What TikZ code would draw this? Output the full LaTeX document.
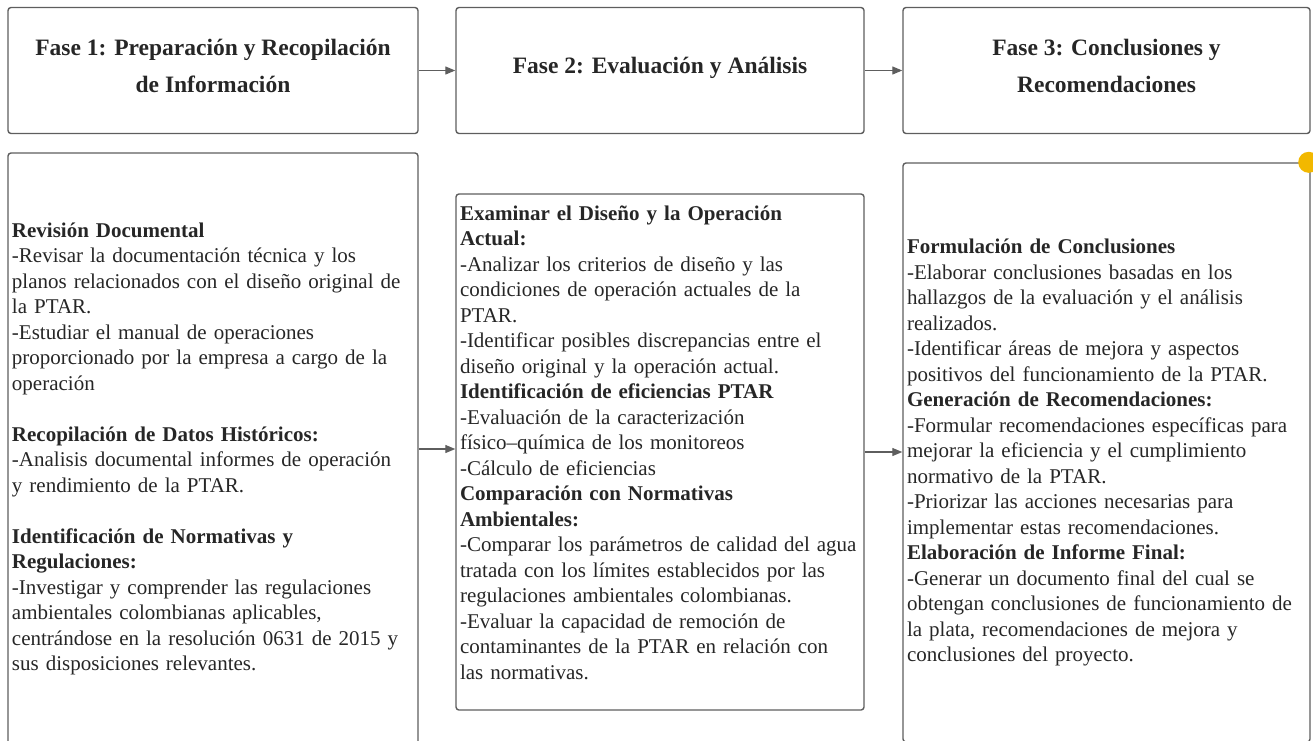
\documentclass[tikz,border=0pt]{standalone}
\usepackage{fontspec}
\setmainfont{Liberation Serif}
\usepackage{xcolor}
\usetikzlibrary{arrows.meta}
\definecolor{edgegray}{HTML}{5E5E5E}
\definecolor{txtgray}{HTML}{262626}
\definecolor{dotyellow}{HTML}{F2B800}
\tikzset{
    phase/.style={draw=edgegray, line width=1.4pt, rounded corners=3pt, inner sep=0pt,
        align=center, text=txtgray, font=\fontsize{23.5}{37}\selectfont\bfseries},
    stage/.style={draw=edgegray, line width=1.4pt, rounded corners=3pt, inner xsep=4pt, inner ysep=0pt,
        align=left, text=txtgray, font=\fontsize{21}{25.5}\selectfont},
    conn/.style={draw=edgegray, line width=1.2pt, -{Triangle[length=10pt, width=8pt]}}
}
\newcommand{\hd}[1]{\textbf{#1}}
\newcommand{\tailgap}[1]{\\[#1]\mbox{}}

\begin{document}
\begin{tikzpicture}[x=1pt, y=-1pt]
\useasboundingbox (0,0) rectangle (1313,740);
% fases
\node[phase, minimum width=410pt, minimum height=126pt] (f1) at (213,70.5) {Fase 1: Preparación y Recopilación\\de Información\tailgap{-27pt}};
\node[phase, minimum width=408pt, minimum height=126pt] (f2) at (660,70.5) {Fase 2: Evaluación y Análisis\tailgap{-27pt}};
\node[phase, minimum width=407pt, minimum height=126pt] (f3) at (1106.5,70.5) {Fase 3: Conclusiones y\\Recomendaciones\tailgap{-27pt}};
% actividades
\node[stage, text width=402pt, minimum width=410pt, minimum height=592pt] (a1) at (213,449) {%
\hd{Revisión Documental}\\
-Revisar la documentación técnica y los\\
planos relacionados con el diseño original de\\
la PTAR.\\
-Estudiar el manual de operaciones\\
proporcionado por la empresa a cargo de la\\
operación\\[25.5pt]
\hd{Recopilación de Datos Históricos:}\\
-Analisis documental informes de operación\\
y rendimiento de la PTAR.\\[25.5pt]
\hd{Identificación de Normativas y}\\
\hd{Regulaciones:}\\
-Investigar y comprender las regulaciones\\
ambientales colombianas aplicables,\\
centrándose en la resolución 0631 de 2015 y\\
sus disposiciones relevantes.};
\node[stage, text width=400pt, minimum width=408pt, minimum height=516pt] (a2) at (660,452) {%
\hd{Examinar el Diseño y la Operación}\\
\hd{Actual:}\\
-Analizar los criterios de diseño y las\\
condiciones de operación actuales de la\\
PTAR.\\
-Identificar posibles discrepancias entre el\\
diseño original y la operación actual.\\
\hd{Identificación de eficiencias PTAR}\\
-Evaluación de la caracterización\\
físico–química de los monitoreos\\
-Cálculo de eficiencias\\
\hd{Comparación con Normativas}\\
\hd{Ambientales:}\\
-Comparar los parámetros de calidad del agua\\
tratada con los límites establecidos por las\\
regulaciones ambientales colombianas.\\
-Evaluar la capacidad de remoción de\\
contaminantes de la PTAR en relación con\\
las normativas.\tailgap{-6pt}};
\node[stage, text width=399pt, minimum width=407pt, minimum height=579pt] (a3) at (1106.5,452.5) {%
\hd{Formulación de Conclusiones}\\
-Elaborar conclusiones basadas en los\\
hallazgos de la evaluación y el análisis\\
realizados.\\
-Identificar áreas de mejora y aspectos\\
positivos del funcionamiento de la PTAR.\\
\hd{Generación de Recomendaciones:}\\
-Formular recomendaciones específicas para\\
mejorar la eficiencia y el cumplimiento\\
normativo de la PTAR.\\
-Priorizar las acciones necesarias para\\
implementar estas recomendaciones.\\
\hd{Elaboración de Informe Final:}\\
-Generar un documento final del cual se\\
obtengan conclusiones de funcionamiento de\\
la plata, recomendaciones de mejora y\\
conclusiones del proyecto.};
% flechas
\draw[conn] (f1.east) -- (f2.west);
\draw[conn] (f2.east) -- (f3.west);
\draw[conn] (a1.east) -- (a2.west |- a1.east);
\draw[conn] (a2.east) -- (a3.west |- a2.east);
\fill[dotyellow] (a3.north east) ++(-2,0) circle (10.5);
\end{tikzpicture}
\end{document}
